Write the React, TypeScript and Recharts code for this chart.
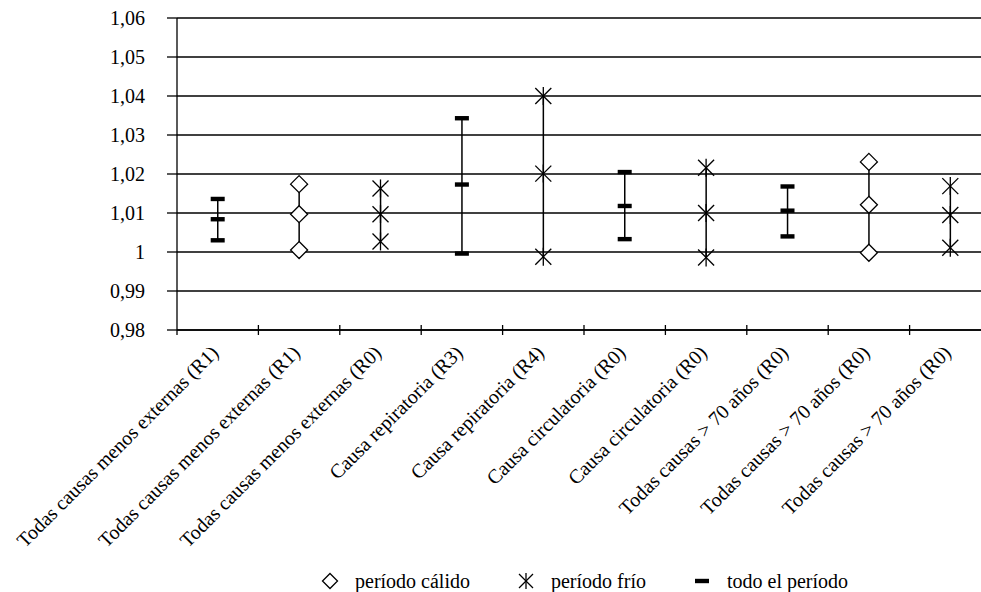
import {
  Bar,
  CartesianGrid,
  ComposedChart,
  Legend,
  Line,
  XAxis,
  YAxis,
} from "recharts"

const categorias = [
  "Todas causas menos externas (R1)",
  "Todas causas menos externas (R1)",
  "Todas causas menos externas (R0)",
  "Causa repiratoria (R3)",
  "Causa repiratoria (R4)",
  "Causa circulatoria (R0)",
  "Causa circulatoria (R0)",
  "Todas causas > 70 años (R0)",
  "Todas causas > 70 años (R0)",
  "Todas causas > 70 años (R0)",
]

// periodo de cada estimación: todo / calido / frio
const periodos = ["todo", "calido", "frio", "todo", "frio", "todo", "frio", "todo", "calido", "frio"]

const inferior = [1.003, 1.0005, 1.0027, 0.9996, 0.9988, 1.0033, 0.9986, 1.004, 0.9998, 1.0011]
const central = [1.0084, 1.0097, 1.0097, 1.0173, 1.0201, 1.0118, 1.01, 1.0106, 1.0121, 1.0095]
const superior = [1.0136, 1.0174, 1.0163, 1.0343, 1.04, 1.0205, 1.0216, 1.0168, 1.0231, 1.0169]

const yTicks = [0.98, 0.99, 1, 1.01, 1.02, 1.03, 1.04, 1.05, 1.06]

const leyenda = [
  { periodo: "calido", texto: "período cálido" },
  { periodo: "frio", texto: "período frío" },
  { periodo: "todo", texto: "todo el período" },
]

const data = categorias.map((categoria, i) => ({
  categoria,
  periodo: periodos[i],
  inferior: inferior[i],
  central: central[i],
  superior: superior[i],
}))

const FONT = "Liberation Serif"
const WIDTH = 1000
const HEIGHT = 592
const MARGIN = { top: 18, right: 9, bottom: 0, left: 0 }
const Y_WIDTH = 177
const PASO = (WIDTH - MARGIN.left - MARGIN.right - Y_WIDTH) / categorias.length

const formatoY = (v: number) => (v === 1 ? "1" : v.toFixed(2).replace(".", ","))

function Simbolo({ periodo, cx, cy, r = 8.5 }: { periodo: string; cx: number; cy: number; r?: number }) {
  if (periodo === "calido") {
    return (
      <path
        d={`M${cx},${cy - r} L${cx + r},${cy} L${cx},${cy + r} L${cx - r},${cy} Z`}
        fill="#fff"
        stroke="#000"
        strokeWidth={1.3}
      />
    )
  }
  if (periodo === "frio") {
    const a = r - 0.5
    return (
      <g stroke="#000" strokeWidth={1.3}>
        <line x1={cx - a} y1={cy - a} x2={cx + a} y2={cy + a} />
        <line x1={cx - a} y1={cy + a} x2={cx + a} y2={cy - a} />
        <line x1={cx} y1={cy - a - 1} x2={cx} y2={cy + a + 1} />
      </g>
    )
  }
  return <rect x={cx - 7} y={cy - 2.2} width={14} height={4.4} fill="#000" />
}

function Marca(props: any) {
  const { cx, cy, payload } = props
  if (cx == null || cy == null) return <g />
  return <Simbolo periodo={payload.periodo} cx={cx} cy={cy} />
}

function EtiquetaY(props: any) {
  const { x, y, payload } = props
  return (
    <text x={x} y={y} dy="0.36em" textAnchor="end" style={{ fontFamily: FONT, fontSize: 20 }} fill="#000">
      {formatoY(payload.value)}
    </text>
  )
}

// marca de división entre categorías + etiqueta girada 45°
function EtiquetaX(props: any) {
  const { x, y, payload, index } = props
  const tx = x + 2
  const ty = y + 24
  return (
    <g>
      {index === 0 && (
        <line x1={x - PASO / 2} x2={x - PASO / 2} y1={y} y2={y + 5} stroke="#000" strokeWidth={1.3} />
      )}
      <line x1={x + PASO / 2} x2={x + PASO / 2} y1={y - 5} y2={y + 5} stroke="#000" strokeWidth={1.3} />
      <text
        x={tx}
        y={ty}
        transform={`rotate(-45 ${tx} ${ty})`}
        textAnchor="end"
        style={{ fontFamily: FONT, fontSize: 20 }}
        fill="#000"
      >
        {payload.value}
      </text>
    </g>
  )
}

function Leyenda() {
  return (
    <div
      style={{
        display: "flex",
        alignItems: "center",
        paddingLeft: 320,
        height: 30,
        lineHeight: "20px",
        fontFamily: FONT,
        fontSize: 20,
        color: "#000",
      }}
    >
      {leyenda.map((item) => (
        <div key={item.periodo} style={{ display: "flex", alignItems: "center", marginRight: 46 }}>
          <svg width={20} height={20} style={{ marginRight: 15, display: "block" }}>
            <Simbolo periodo={item.periodo} cx={10} cy={10} r={7.5} />
          </svg>
          <span>{item.texto}</span>
        </div>
      ))}
    </div>
  )
}

export default function App() {
  return (
    <div
      style={{
        position: "fixed",
        top: 0,
        left: 0,
        width: 981,
        height: HEIGHT,
        overflow: "hidden",
        background: "#fff",
      }}
    >
      <ComposedChart width={WIDTH} height={HEIGHT} data={data} margin={MARGIN}>
        <CartesianGrid vertical={false} stroke="#000" strokeWidth={1.3} />
        <XAxis
          dataKey="categoria"
          interval={0}
          tickLine={false}
          tickSize={0}
          tickMargin={0}
          height={232}
          axisLine={{ stroke: "#000", strokeWidth: 1.3 }}
          tick={<EtiquetaX />}
        />
        <YAxis
          type="number"
          domain={[0.98, 1.06]}
          ticks={yTicks}
          width={Y_WIDTH}
          tickSize={10}
          tickMargin={22}
          axisLine={{ stroke: "#000", strokeWidth: 1.3 }}
          tickLine={{ stroke: "#000", strokeWidth: 1.3 }}
          tick={<EtiquetaY />}
        />
        <Bar
          dataKey={(d: any) => [d.inferior, d.superior]}
          barSize={1.5}
          fill="#000"
          isAnimationActive={false}
        />
        <Line dataKey="inferior" stroke="none" dot={<Marca />} activeDot={false} isAnimationActive={false} />
        <Line dataKey="central" stroke="none" dot={<Marca />} activeDot={false} isAnimationActive={false} />
        <Line dataKey="superior" stroke="none" dot={<Marca />} activeDot={false} isAnimationActive={false} />
        <Legend
          verticalAlign="bottom"
          height={30}
          wrapperStyle={{ top: 566, bottom: "auto", left: 0 }}
          content={<Leyenda />}
        />
      </ComposedChart>
    </div>
  )
}
